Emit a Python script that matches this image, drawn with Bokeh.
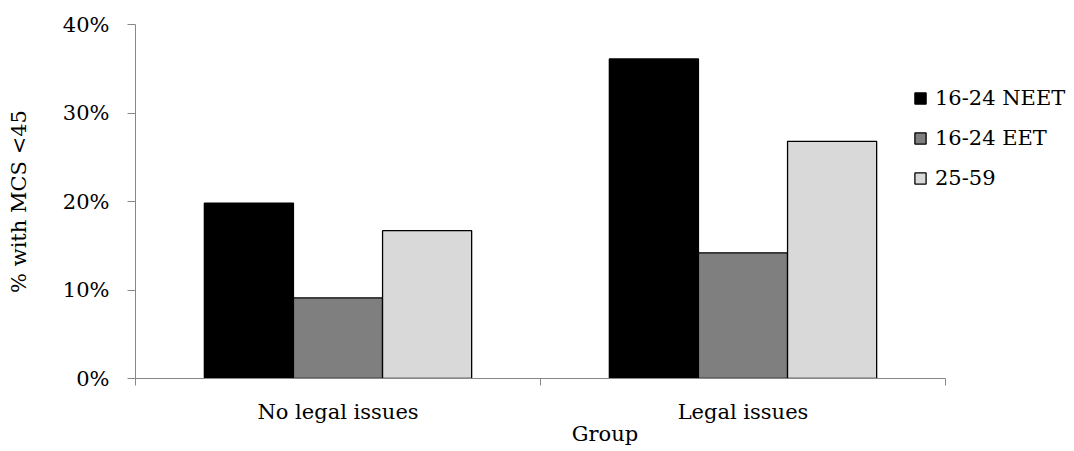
from bokeh.plotting import figure
from bokeh.models import (ColumnDataSource, Range1d, FixedTicker, NumeralTickFormatter,
                          Legend, LegendItem)
from bokeh.embed import file_html
from bokeh.resources import INLINE

groups = ["No legal issues", "Legal issues"]
series = ["16-24 NEET", "16-24 EET", "25-59"]
neet = [0.198, 0.361]
eet = [0.091, 0.142]
older = [0.167, 0.268]
colors = ["#000000", "#7f7f7f", "#d9d9d9"]
y_ticks = [0, 0.1, 0.2, 0.3, 0.4]

FONT = "DejaVu Serif"
FS = "21px"
AXIS_COLOR = "#878787"

FRAME_W = 939
AXIS_W = 810
n = len(groups)

p = figure(width=1074, height=451, output_backend="svg", toolbar_location=None,
           x_range=Range1d(0, n * FRAME_W / AXIS_W), y_range=Range1d(0, 0.4),
           min_border_left=135, min_border_right=0, min_border_top=24, min_border_bottom=73)
p.frame_width = FRAME_W
p.frame_height = 354

bar_w = 0.22
items = []
for j, (name, vals, col) in enumerate(zip(series, [neet, eet, older], colors)):
    xs = [i + 0.5 + (j - 1) * bar_w for i in range(n)]
    src = ColumnDataSource(dict(x=xs, top=vals))
    r = p.vbar(x="x", top="top", width=bar_w, bottom=0, source=src,
               fill_color=col, line_color="black", line_width=1.3)
    items.append(LegendItem(label=name, renderers=[r]))

p.xgrid.visible = False
p.ygrid.visible = False
p.outline_line_color = None
p.background_fill_color = "white"

# x axis
xa = p.xaxis[0]
xa.bounds = (0, n)
xa.ticker = FixedTicker(ticks=[i + 0.5 for i in range(n)],
                        minor_ticks=list(range(n + 1)))
xa.major_label_overrides = {i + 0.5: g for i, g in enumerate(groups)}
xa.major_tick_out = 0
xa.major_tick_in = 0
xa.minor_tick_out = 7
xa.minor_tick_in = 0
xa.minor_tick_line_color = AXIS_COLOR
xa.axis_line_color = AXIS_COLOR
xa.axis_label = "Group"
xa.major_label_standoff = 14
xa.axis_label_standoff = -5

# y axis
ya = p.yaxis[0]
ya.ticker = FixedTicker(ticks=y_ticks)
ya.formatter = NumeralTickFormatter(format="0%")
ya.major_tick_out = 8
ya.major_tick_in = 0
ya.minor_tick_line_color = None
ya.major_tick_line_color = AXIS_COLOR
ya.axis_line_color = AXIS_COLOR
ya.axis_label = "% with MCS <45"
ya.major_label_standoff = 18
ya.axis_label_standoff = 29

for ax in (xa, ya):
    ax.major_label_text_font = FONT
    ax.major_label_text_font_size = FS
    ax.major_label_text_color = "black"
    ax.axis_label_text_font = FONT
    ax.axis_label_text_font_size = FS
    ax.axis_label_text_font_style = "normal"
    ax.axis_label_text_color = "black"

legend = Legend(items=items, location=(778, 188), orientation="vertical",
                glyph_width=14, glyph_height=14, label_standoff=8, spacing=16,
                padding=0, margin=0, border_line_color=None, background_fill_alpha=0,
                label_text_font=FONT, label_text_font_size=FS, label_text_color="black")
p.add_layout(legend)

open("out.html", "w").write(file_html(p, INLINE))
